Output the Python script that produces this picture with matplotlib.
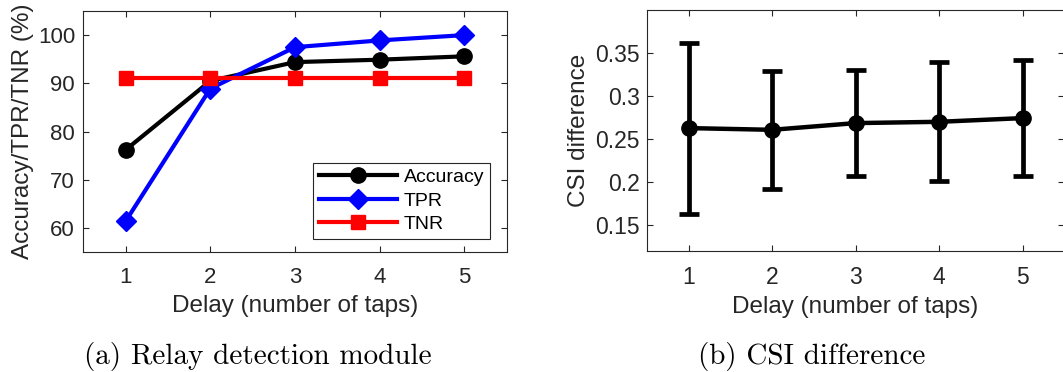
import matplotlib
matplotlib.use("Agg")
import matplotlib.pyplot as plt

delays = [1, 2, 3, 4, 5]
accuracy = [76.2, 90.5, 94.4, 94.9, 95.6]
tpr = [61.4, 88.9, 97.5, 98.9, 100.0]
tnr = [91.2, 91.2, 91.2, 91.2, 91.2]

csi_mean = [0.2628, 0.2608, 0.2686, 0.2701, 0.2744]
csi_upper = [0.3616, 0.3286, 0.3306, 0.3391, 0.3414]
csi_lower = [0.1635, 0.1922, 0.2066, 0.2019, 0.2077]

plt.rcParams['font.family'] = ['Liberation Sans', 'DejaVu Sans']
GRAY = '#262626'
TICK_FS = 16
LABEL_FS = 17.5

fig = plt.figure(figsize=(10.63, 3.72), dpi=100)

def style(ax):
    for s in ax.spines.values():
        s.set_color(GRAY)
        s.set_linewidth(0.8)
    ax.tick_params(direction='in', top=True, right=True, length=4, width=0.8,
                   colors=GRAY, labelsize=TICK_FS)
    ax.tick_params(axis='x', pad=11)
    ax.tick_params(axis='y', pad=6)
    ax.set_xticks(delays)

ax1 = fig.add_axes([0.0784, 0.3226, 0.3983, 0.6478])
ax1.plot(delays, accuracy, '-o', color='black', lw=3, ms=11, label='Accuracy')
ax1.plot(delays, tpr, '-D', color='blue', lw=3, ms=10, label='TPR')
ax1.plot(delays, tnr, '-s', color='red', lw=3, ms=10, label='TNR')
ax1.set_xlim(0.5, 5.5)
ax1.set_ylim(55, 105)
ax1.set_yticks([60, 70, 80, 90, 100])
style(ax1)
ax1.set_xlabel('Delay (number of taps)', fontsize=LABEL_FS, color=GRAY, labelpad=5)
ax1.set_ylabel('Accuracy/TPR/TNR (%)', fontsize=LABEL_FS, color=GRAY, labelpad=3)
leg = ax1.legend(loc='lower right', fontsize=14, frameon=True, fancybox=False,
                 edgecolor=GRAY, framealpha=1, handlelength=4.0, borderpad=0.3,
                 labelspacing=0.3, handletextpad=0.35, borderaxespad=0,
                 bbox_to_anchor=(0.96, 0.054))
leg.get_frame().set_linewidth(0.8)

ax2 = fig.add_axes([0.6084, 0.3253, 0.3930, 0.6478])
yerr = [[m - l for m, l in zip(csi_mean, csi_lower)],
        [u - m for m, u in zip(csi_mean, csi_upper)]]
ax2.errorbar(delays, csi_mean, yerr=yerr, fmt='-o', color='black', lw=3.2, ms=11,
             elinewidth=3.4, capsize=7, capthick=3.4)
ax2.set_xlim(0.5, 5.5)
ax2.set_ylim(0.12, 0.40)
ax2.set_yticks([0.15, 0.2, 0.25, 0.3, 0.35])
ax2.set_yticklabels(['0.15', '0.2', '0.25', '0.3', '0.35'])
style(ax2)
ax2.tick_params(axis='both', labelsize=16.5)
ax2.tick_params(axis='y', pad=5)
ax2.set_xlabel('Delay (number of taps)', fontsize=LABEL_FS, color=GRAY, labelpad=5)
ax2.set_ylabel('CSI difference', fontsize=LABEL_FS, color=GRAY, labelpad=4)

fig.text(0.243, 0.043, '(a) Relay detection module', family='cmr10', fontsize=21,
         ha='center', va='center')
fig.text(0.764, 0.043, '(b) CSI difference', family='cmr10', fontsize=21,
         ha='center', va='center')

fig.savefig('out.png', dpi=100)
